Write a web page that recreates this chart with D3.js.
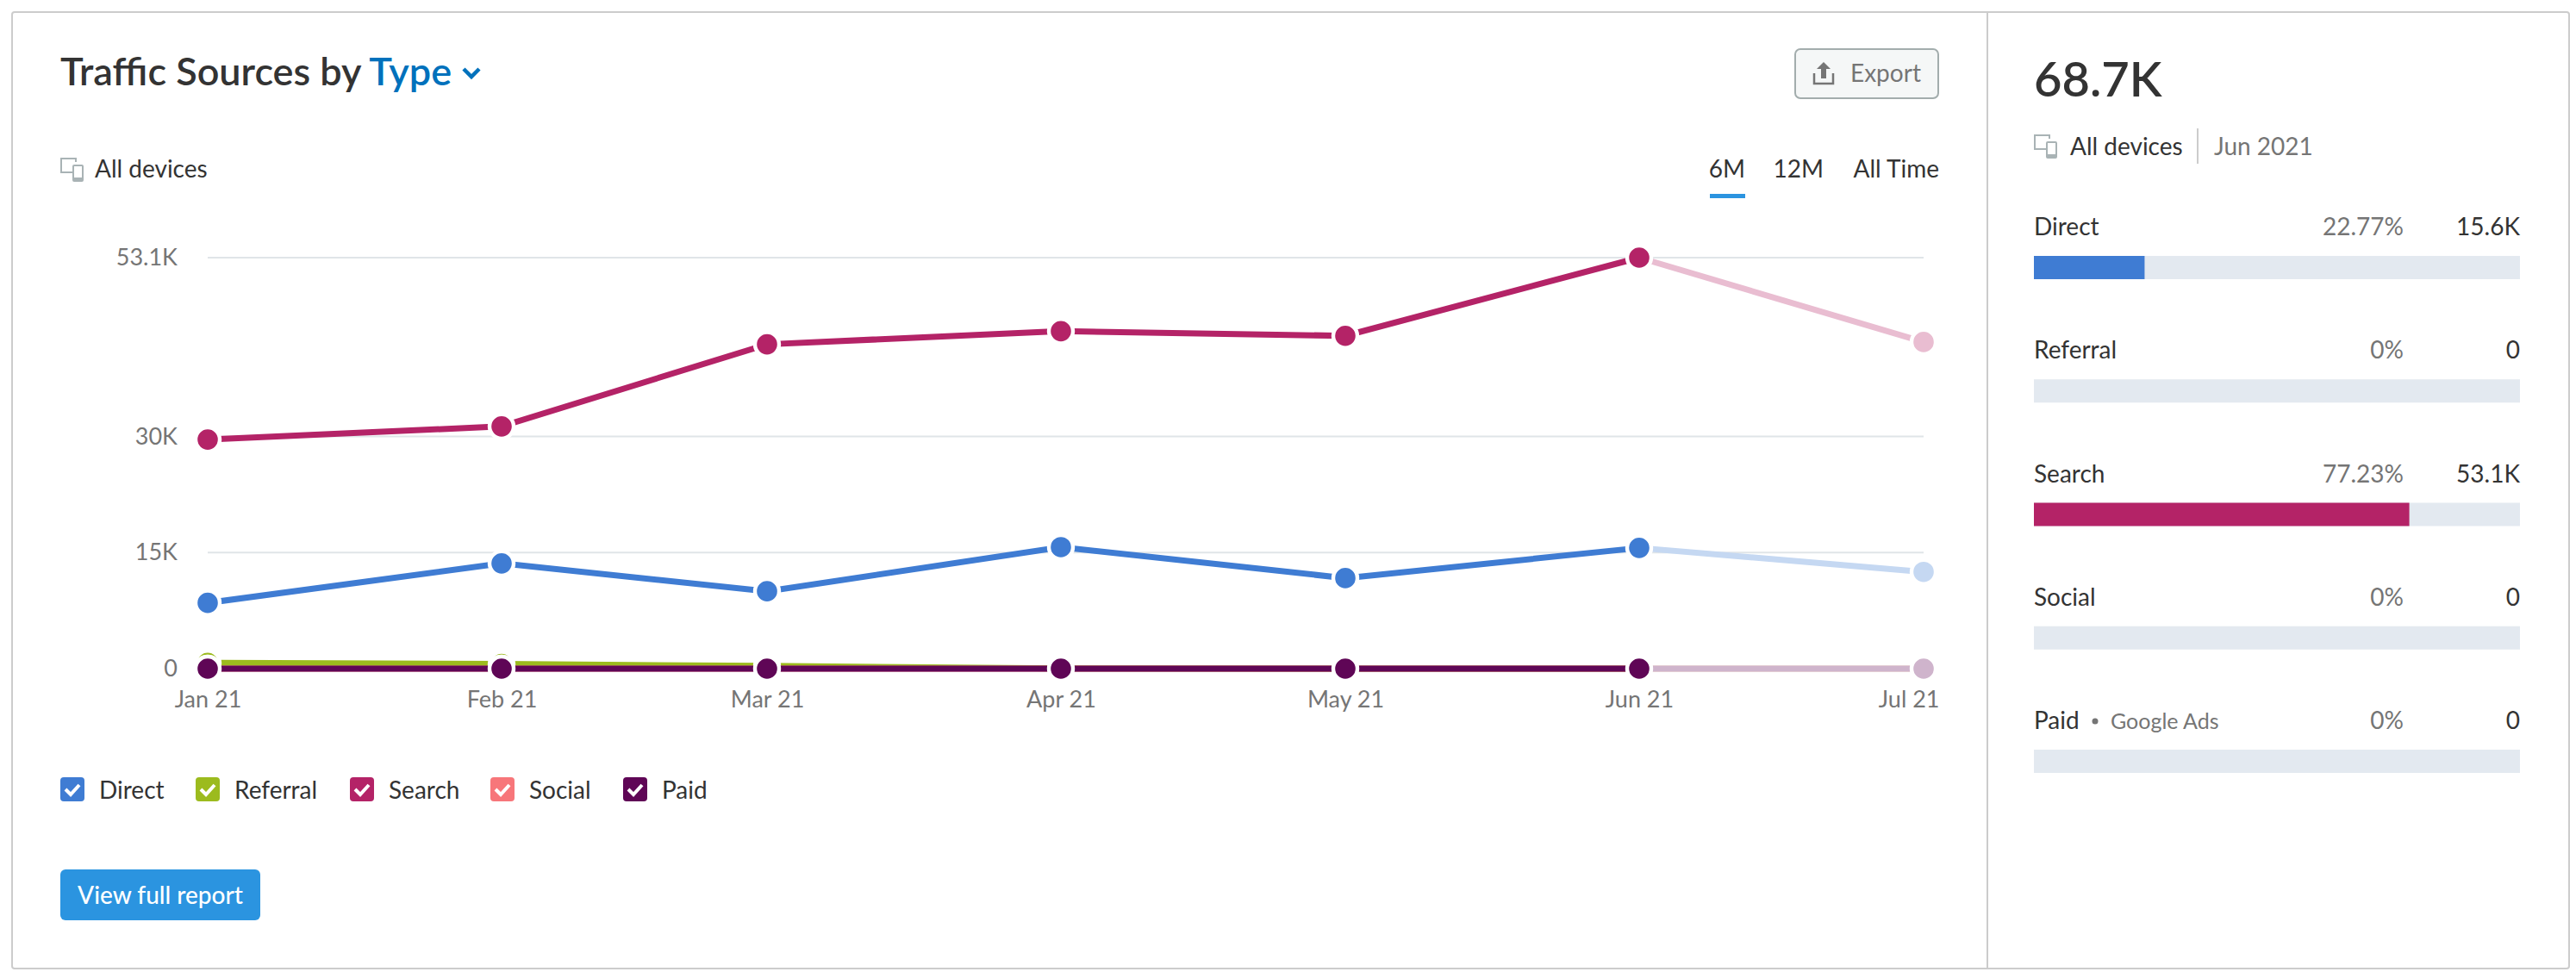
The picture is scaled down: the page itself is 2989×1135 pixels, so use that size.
<!DOCTYPE html>
<html>
<head>
<meta charset="utf-8">
<script src="https://d3js.org/d3.v7.min.js"></script>
<style>
  html, body { margin: 0; background: #fff; }
  svg { display: block; }
  text { font-family: "Lato", "Noto Sans", sans-serif; }
  .grid line { stroke: #e0e5e8; stroke-width: 2px; }
  .axis text { fill: #757575; font-size: 27px; }
</style>
</head>
<body>
<svg id="chart" width="2989" height="1135"></svg>
<script>
// values, in thousands
const months = ["2021-01-01", "2021-02-01", "2021-03-01", "2021-04-01", "2021-05-01", "2021-06-01", "2021-07-01"];
const direct = [8.5, 13.6, 10.0, 15.7, 11.7, 15.6, 12.5];
const referral = [0.75, 0.6, 0.35, 0.02, 0, 0, 0];
const search = [29.6, 31.3, 41.9, 43.6, 43.0, 53.1, 42.2];
const social = [0, 0, 0, 0, 0, 0, 0];
const paid = [0, 0, 0, 0, 0, 0, 0];
const yTicks = [0, 15, 30, 53.1];
const yTickLabels = ["0", "15K", "30K", "53.1K"];
const seriesNames = ["Direct", "Referral", "Search", "Social", "Paid"];
const seriesColors = ["#3f7cd3", "#9cbb1e", "#b42367", "#f7767a", "#5f0656"];
const seriesValues = [direct, referral, search, social, paid];
const sharePct = [22.77, 0, 77.23, 0, 0];
const shareLabels = ["22.77%", "0%", "77.23%", "0%", "0%"];
const valueLabels = ["15.6K", "0", "53.1K", "0", "0"];

const svg = d3.select("#chart");
const dark = "#333333", grey = "#757575";
const parse = d3.utcParse("%Y-%m-%d");
const dates = months.map(parse);

// frame
svg.append("rect").attr("x", 14).attr("y", 14).attr("width", 2967).attr("height", 1110).attr("rx", 3)
  .attr("fill", "#fff").attr("stroke", "#cccccc").attr("stroke-width", 2);
svg.append("line").attr("x1", 2306).attr("x2", 2306).attr("y1", 14).attr("y2", 1124)
  .attr("stroke", "#cccccc").attr("stroke-width", 2);

// title
const title = svg.append("text").attr("x", 70).attr("y", 99).attr("font-size", 45).attr("font-weight", 600).attr("fill", dark);
title.append("tspan").text("Traffic Sources by ");
title.append("tspan").attr("fill", "#0071bc").text("Type");
svg.append("path").attr("d", "M538,80l9,9l9,-9").attr("fill", "none").attr("stroke", "#0071bc").attr("stroke-width", 4.5);

function devicesIcon(g) {
  g.append("path").attr("d", "M14,17H1V1H18V5").attr("fill", "none").attr("stroke", "#a9b3b5").attr("stroke-width", 2);
  g.append("rect").attr("x", 15).attr("y", 9).attr("width", 11).attr("height", 18).attr("rx", 1)
    .attr("fill", "#fff").attr("stroke", "#a9b3b5").attr("stroke-width", 2);
  g.append("rect").attr("x", 15).attr("y", 23).attr("width", 11).attr("height", 4).attr("fill", "#a9b3b5");
}
devicesIcon(svg.append("g").attr("transform", "translate(70,183)"));
svg.append("text").attr("x", 110).attr("y", 206).attr("font-size", 28).attr("fill", dark).text("All devices");

// export button
svg.append("rect").attr("x", 2083).attr("y", 57).attr("width", 166).attr("height", 57).attr("rx", 6)
  .attr("fill", "#f5f7f7").attr("stroke", "#a3adad").attr("stroke-width", 2);
const up = svg.append("g").attr("transform", "translate(2104,72)");
up.append("path").attr("d", "M1,13V25H23V13").attr("fill", "none").attr("stroke", "#757575").attr("stroke-width", 2.5);
up.append("path").attr("d", "M12,0L20,8H15V19H9V8H4Z").attr("fill", "#757575");
svg.append("text").attr("x", 2147).attr("y", 95).attr("font-size", 28).attr("fill", grey).text("Export");

// range tabs
const tabs = ["6M", "12M", "All Time"];
const tabRight = [2025, 2116, 2250];
svg.selectAll(".tab").data(tabs).join("text").attr("class", "tab")
  .attr("x", (d, i) => tabRight[i]).attr("y", 206).attr("text-anchor", "end")
  .attr("font-size", 28).attr("fill", dark).text(d => d);
svg.append("rect").attr("x", 1984).attr("y", 225).attr("width", 41).attr("height", 5).attr("fill", "#2b94e0");

// line chart
const x = d3.scaleUtc().domain([dates[0], dates[6]]).range([241, 2232]);
const y = d3.scaleLinear().domain([0, 53.1]).range([776, 299]);

const gridG = svg.append("g").attr("class", "grid");
gridG.selectAll("line").data(yTicks).join("line")
  .attr("x1", x.range()[0]).attr("x2", x.range()[1])
  .attr("y1", d => y(d)).attr("y2", d => y(d));

const yAxis = d3.axisLeft(y).tickValues(yTicks).tickSize(0).tickPadding(0)
  .tickFormat((d, i) => yTickLabels[i]);
svg.append("g").attr("class", "axis").attr("transform", "translate(206,0)").call(yAxis)
  .call(g => g.select(".domain").remove());

const xAxis = d3.axisBottom(x).tickValues(dates).tickSize(0).tickPadding(0)
  .tickFormat(d3.utcFormat("%b %y"));
const xG = svg.append("g").attr("class", "axis").attr("transform", "translate(0,802)").call(xAxis)
  .call(g => g.select(".domain").remove());
// last label is kept inside the plot's right edge
xG.selectAll(".tick:last-of-type text").attr("text-anchor", "end").attr("x", 18);

const line = d3.line().x(d => x(d.date)).y(d => y(d.value));
seriesNames.forEach((name, s) => {
  const pts = seriesValues[s].map((v, i) => ({ date: dates[i], value: v }));
  const faded = d3.interpolateRgb("#fff", seriesColors[s])(0.3);
  const g = svg.append("g").attr("class", "series");
  // last month is still incomplete, so it is faded
  g.append("path").attr("d", line(pts.slice(0, 6))).attr("fill", "none")
    .attr("stroke", seriesColors[s]).attr("stroke-width", 7);
  g.append("path").attr("d", line(pts.slice(5))).attr("fill", "none")
    .attr("stroke", faded).attr("stroke-width", 7);
  g.selectAll("circle").data(pts).join("circle")
    .attr("cx", d => x(d.date)).attr("cy", d => y(d.value)).attr("r", 14)
    .attr("fill", (d, i) => i === 6 ? faded : seriesColors[s])
    .attr("stroke", "#fff").attr("stroke-width", 4.4);
});

// legend
const legendX = [70, 227, 406, 569, 723];
const legend = svg.selectAll(".legend").data(seriesNames).join("g").attr("class", "legend")
  .attr("transform", (d, i) => `translate(${legendX[i]},902)`);
legend.append("rect").attr("width", 28).attr("height", 28).attr("rx", 4).attr("fill", (d, i) => seriesColors[i]);
legend.append("path").attr("d", "M6,14l6,6l10,-11").attr("fill", "none").attr("stroke", "#fff").attr("stroke-width", 4);
legend.append("text").attr("x", 45).attr("y", 25).attr("font-size", 28).attr("fill", dark).text(d => d);

// view full report
svg.append("rect").attr("x", 70).attr("y", 1009).attr("width", 232).attr("height", 59).attr("rx", 6).attr("fill", "#2b94e0");
svg.append("text").attr("x", 186).attr("y", 1049).attr("text-anchor", "middle").attr("font-size", 28).attr("font-weight", 500).attr("fill", "#fff").text("View full report");

// right panel
svg.append("text").attr("x", 2360).attr("y", 112).attr("font-size", 56).attr("font-weight", 600).attr("fill", dark).text("68.7K");
devicesIcon(svg.append("g").attr("transform", "translate(2360,156)"));
svg.append("text").attr("x", 2402).attr("y", 180).attr("font-size", 28).attr("fill", dark).text("All devices");
svg.append("line").attr("x1", 2550).attr("x2", 2550).attr("y1", 149).attr("y2", 190).attr("stroke", "#cccccc").attr("stroke-width", 2);
svg.append("text").attr("x", 2569).attr("y", 180).attr("font-size", 28).attr("fill", grey).text("Jun 2021");

const barX = d3.scaleLinear().domain([0, 100]).range([2360, 2924]);
const rowY = d3.scalePoint().domain(seriesNames).range([297, 870]);
const rows = svg.selectAll(".row").data(seriesNames).join("g").attr("class", "row")
  .attr("transform", d => `translate(0,${rowY(d)})`);
rows.append("rect").attr("x", barX(0)).attr("y", 0).attr("width", barX(100) - barX(0)).attr("height", 27).attr("fill", "#e3e9f0");
rows.append("rect").attr("x", barX(0)).attr("y", 0).attr("width", (d, i) => barX(sharePct[i]) - barX(0)).attr("height", 27)
  .attr("fill", (d, i) => seriesColors[i]);
rows.append("text").attr("x", barX(0)).attr("y", -24).attr("font-size", 28).attr("fill", dark).text(d => d);
rows.append("text").attr("x", 2789).attr("y", -24).attr("text-anchor", "end").attr("font-size", 28).attr("fill", grey).text((d, i) => shareLabels[i]);
rows.append("text").attr("x", barX(100)).attr("y", -24).attr("text-anchor", "end").attr("font-size", 28).attr("fill", dark).text((d, i) => valueLabels[i]);
const paidRow = rows.filter(d => d === "Paid");
paidRow.append("circle").attr("cx", 2431).attr("cy", -33).attr("r", 3.5).attr("fill", grey);
paidRow.append("text").attr("x", 2449).attr("y", -24).attr("font-size", 25).attr("fill", grey).text("Google Ads");
</script>
</body>
</html>
